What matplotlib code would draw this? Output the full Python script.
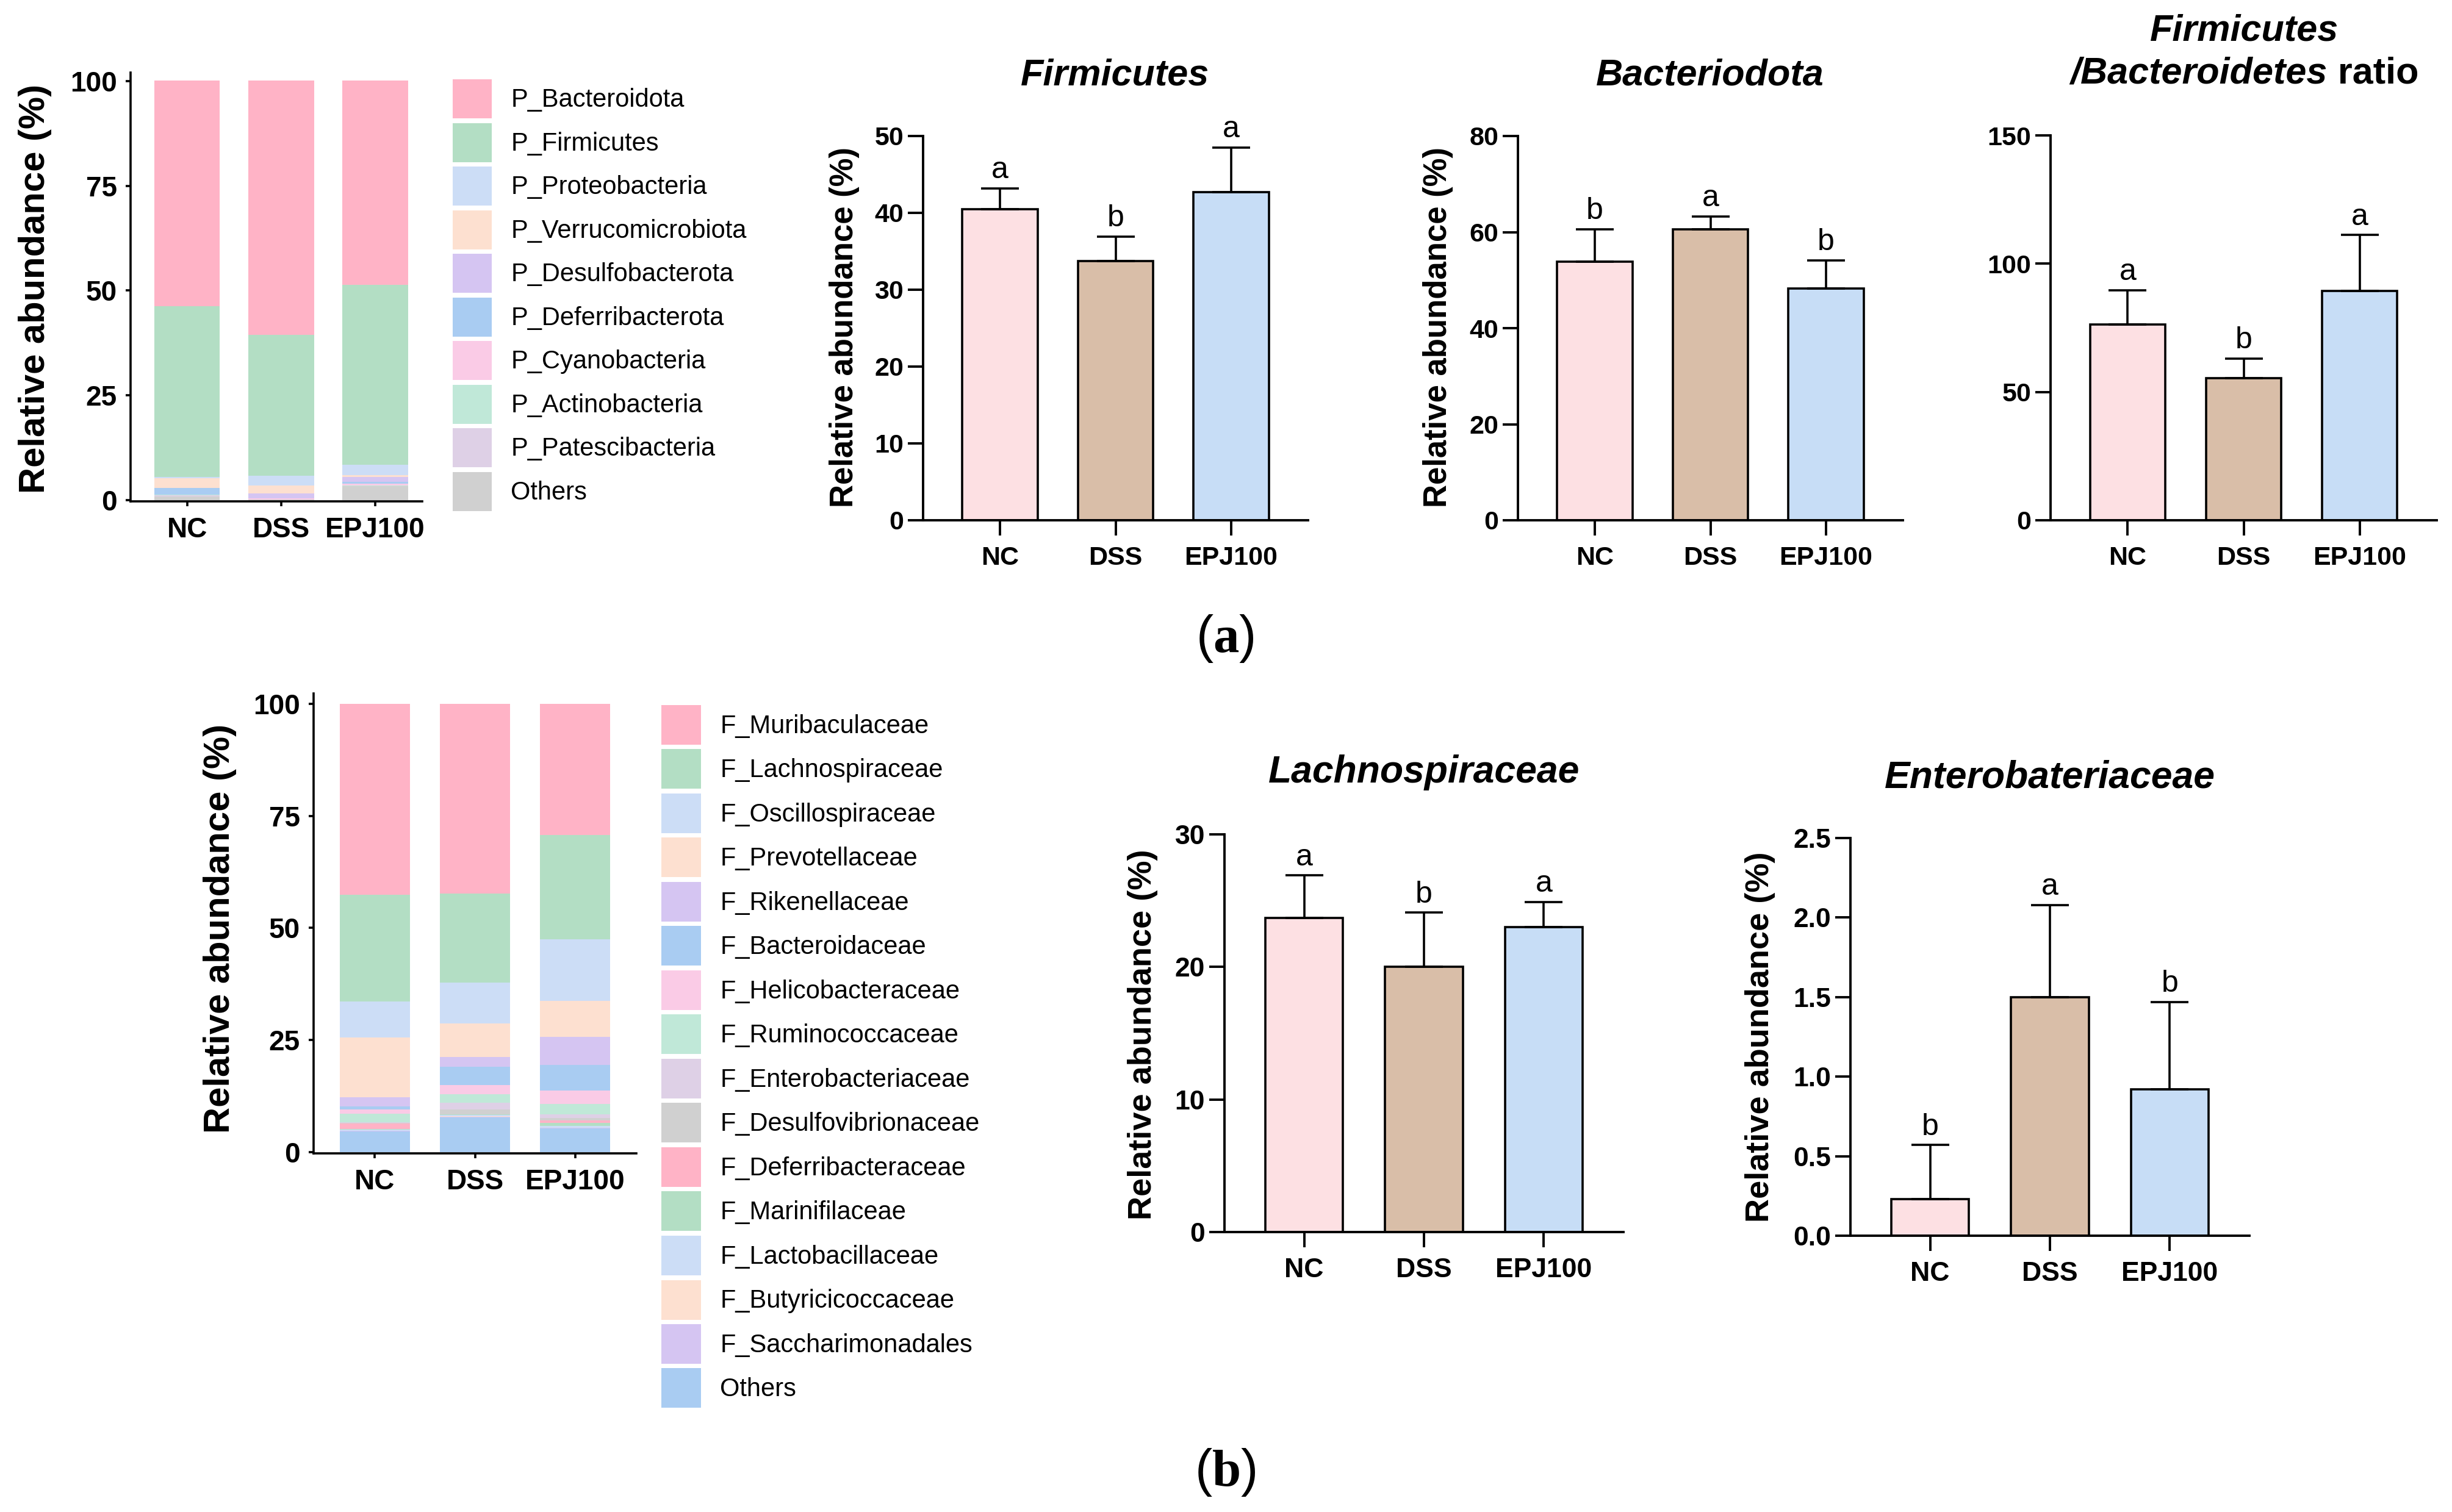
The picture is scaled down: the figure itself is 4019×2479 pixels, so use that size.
"""Gut microbiota composition: stacked phylum/family abundance and selected taxa bar charts."""

import numpy as np
import matplotlib
matplotlib.use("Agg")
import matplotlib.pyplot as plt
from matplotlib.patches import Patch

plt.rcParams['font.family'] = ['Liberation Sans', 'DejaVu Sans']
plt.rcParams['mathtext.fontset'] = 'custom'
plt.rcParams['mathtext.rm'] = 'Liberation Serif'
plt.rcParams['mathtext.bf'] = 'Liberation Serif:bold'

W, H = 4019, 2479
DPI = 200

GROUPS = ["NC", "DSS", "EPJ100"]
GROUP_COLORS = ["#FDE0E3", "#D9BEA8", "#C7DDF6"]

# stacked bar data, listed in legend order (top of stack first)
PHYLA = ["P_Bacteroidota", "P_Firmicutes", "P_Proteobacteria", "P_Verrucomicrobiota",
         "P_Desulfobacterota", "P_Deferribacterota", "P_Cyanobacteria",
         "P_Actinobacteria", "P_Patescibacteria", "Others"]
PHYLUM_NC = [53.8, 40.8, 0.2, 2.3, 0.1, 1.5, 0.05, 0.1, 0.3, 0.9]
PHYLUM_DSS = [60.6, 33.7, 2.2, 1.9, 1.2, 0.05, 0.2, 0.05, 0.05, 0.1]
PHYLUM_EPJ100 = [48.7, 42.9, 2.5, 0.5, 1.1, 0.5, 0.4, 0.05, 0.1, 3.3]

FAMILIES = ["F_Muribaculaceae", "F_Lachnospiraceae", "F_Oscillospiraceae", "F_Prevotellaceae",
            "F_Rikenellaceae", "F_Bacteroidaceae", "F_Helicobacteraceae", "F_Ruminococcaceae",
            "F_Enterobacteriaceae", "F_Desulfovibrionaceae", "F_Deferribacteraceae",
            "F_Marinifilaceae", "F_Lactobacillaceae", "F_Butyricicoccaceae",
            "F_Saccharimonadales", "Others"]
FAMILY_NC = [42.6, 23.8, 8.0, 13.3, 2.1, 0.7, 0.9, 1.9, 0.2, 0.1, 1.2, 0.1, 0.3, 0.1, 0.1, 4.6]
FAMILY_DSS = [42.3, 19.9, 9.1, 7.5, 2.2, 4.0, 2.1, 1.9, 1.5, 1.0, 0.1, 0.1, 0.3, 0.1, 0.1, 7.8]
FAMILY_EPJ100 = [29.3, 23.2, 13.7, 8.1, 6.3, 5.7, 3.0, 2.2, 0.9, 0.5, 0.6, 0.6, 0.4, 0.1, 0.1, 5.3]

PHYLUM_COLORS = ["#FFB3C6", "#B3DEC4", "#CCDDF6", "#FDE0D0", "#D5C5F2",
                 "#A9CCF2", "#FACBE6", "#C0E8D8", "#DED0E6", "#D0D0D0"]
FAMILY_COLORS = PHYLUM_COLORS + ["#FFB3C6", "#B3DEC4", "#CCDDF6", "#FDE0D0", "#D5C5F2", "#A9CCF2"]

# mean, upper SD and significance letters per taxon
FIRMICUTES = [40.5, 33.7, 42.7]
FIRMICUTES_ERR = [2.7, 3.2, 5.8]
FIRMICUTES_SIG = ["a", "b", "a"]
BACTERIODOTA = [53.9, 60.6, 48.3]
BACTERIODOTA_ERR = [6.7, 2.7, 5.8]
BACTERIODOTA_SIG = ["b", "a", "b"]
FB_RATIO = [76.3, 55.4, 89.5]
FB_RATIO_ERR = [13.4, 7.6, 21.7]
FB_RATIO_SIG = ["a", "b", "a"]
LACHNO = [23.7, 20.0, 23.0]
LACHNO_ERR = [3.2, 4.1, 1.9]
LACHNO_SIG = ["a", "b", "a"]
ENTERO = [0.23, 1.50, 0.92]
ENTERO_ERR = [0.34, 0.58, 0.55]
ENTERO_SIG = ["b", "a", "b"]


def add_axes_px(fig, left, top, right, bottom):
    return fig.add_axes([left / W, 1 - bottom / H, (right - left) / W, (bottom - top) / H])


def fig_text(fig, x, y, s, **kw):
    return fig.text(x / W, 1 - y / H, s, **kw)


def stacked(ax, values, colors, xlim, ylim):
    data = np.array(values, dtype=float).T        # taxa x groups
    x = np.arange(len(GROUPS))
    bottom = np.zeros(len(GROUPS))
    for row, color in zip(data[::-1], colors[::-1]):
        ax.bar(x, row, bottom=bottom, width=0.7, color=color, linewidth=0)
        bottom += row
    ax.set_xlim(*xlim)
    ax.set_ylim(*ylim)
    ax.set_yticks([0, 25, 50, 75, 100])
    ax.set_xticks(x, GROUPS)
    for side in ("top", "right"):
        ax.spines[side].set_visible(False)
    for side in ("left", "bottom"):
        ax.spines[side].set_linewidth(1.3)
    ax.tick_params(length=3, width=1.3, labelsize=16.5, pad=5)
    ax.tick_params(axis="x", pad=6)
    for lab in ax.get_xticklabels() + ax.get_yticklabels():
        lab.set_fontweight("bold")


def stacked_legend(fig, names, colors, x, y, patch_pt, pitch_pt, fs=15):
    # legend patch height is fs * (0.65 * handleheight + 0.245)
    hh = (patch_pt / fs - 0.245) / 0.65
    handles = [Patch(facecolor=c, edgecolor="none") for c in colors]
    fig.legend(handles, names, loc="upper left", bbox_to_anchor=(x / W, 1 - y / H),
               bbox_transform=fig.transFigure, frameon=False, fontsize=fs,
               handlelength=patch_pt / fs, handleheight=hh, handletextpad=0.75,
               labelspacing=(pitch_pt - patch_pt) / fs, borderpad=0, borderaxespad=0)


def mean_bars(ax, means, errs, letters, ymax, yticks, fmt=None):
    x = np.arange(len(GROUPS))
    ax.bar(x, means, width=0.65, color=GROUP_COLORS, edgecolor="black", linewidth=1.3,
           yerr=[np.zeros(len(errs)), errs], capsize=11,
           error_kw=dict(elinewidth=1.3, capthick=1.3, ecolor="black"))
    for xi, m, e, s in zip(x, means, errs, letters):
        ax.annotate(s, (xi, m + e), xytext=(0, 6), textcoords="offset points",
                    ha="center", va="baseline", fontsize=18)
    ax.set_xlim(-0.665, 2.665)
    ax.set_ylim(0, ymax)
    ax.set_yticks(yticks)
    if fmt is not None:
        ax.set_yticklabels([fmt.format(t) for t in yticks])
    ax.set_xticks(x, GROUPS)
    for side in ("top", "right"):
        ax.spines[side].set_visible(False)
    for side in ("left", "bottom"):
        ax.spines[side].set_linewidth(1.4)
    ax.tick_params(length=9, width=1.4, labelsize=15.5)
    ax.tick_params(axis="x", pad=6)
    ax.tick_params(axis="y", pad=2.5)
    for lab in ax.get_xticklabels() + ax.get_yticklabels():
        lab.set_fontweight("bold")


def main():
    fig = plt.figure(figsize=(W / DPI, H / DPI), dpi=DPI)
    px = 72 / DPI   # points per output pixel
    ylab = "Relative abundance (%)"

    # (a) phylum level
    ax = add_axes_px(fig, 214, 119, 692, 822)
    stacked(ax, [PHYLUM_NC, PHYLUM_DSS, PHYLUM_EPJ100], PHYLUM_COLORS, (-0.6, 2.5), (-0.3, 102))
    fig_text(fig, 58, 473, ylab, rotation=90, ha="center", va="center",
             fontsize=21.5, fontweight="bold")
    stacked_legend(fig, PHYLA, PHYLUM_COLORS, 742, 130, 64 * px, 71.5 * px)

    ax = add_axes_px(fig, 1513, 223, 2144, 853)
    mean_bars(ax, FIRMICUTES, FIRMICUTES_ERR, FIRMICUTES_SIG, 50, [0, 10, 20, 30, 40, 50])
    fig_text(fig, 1384, 537, ylab, rotation=90, ha="center", va="center",
             fontsize=19, fontweight="bold")
    fig_text(fig, 1828, 124, "Firmicutes", ha="center", va="center",
             fontsize=22, fontweight="bold", fontstyle="italic")

    ax = add_axes_px(fig, 2488, 223, 3119, 853)
    mean_bars(ax, BACTERIODOTA, BACTERIODOTA_ERR, BACTERIODOTA_SIG, 80, [0, 20, 40, 60, 80])
    fig_text(fig, 2357, 537, ylab, rotation=90, ha="center", va="center",
             fontsize=19, fontweight="bold")
    fig_text(fig, 2803, 124, "Bacteriodota", ha="center", va="center",
             fontsize=22, fontweight="bold", fontstyle="italic")

    ax = add_axes_px(fig, 3361, 222, 3994, 853)
    mean_bars(ax, FB_RATIO, FB_RATIO_ERR, FB_RATIO_SIG, 150, [0, 50, 100, 150])
    fig_text(fig, 3679, 51, "Firmicutes", ha="center", va="center",
             fontsize=22, fontweight="bold", fontstyle="italic")
    # second title line: italic taxon, upright "ratio"
    left = fig_text(fig, 0, 121, "/Bacteroidetes", ha="left", va="center",
                    fontsize=22, fontweight="bold", fontstyle="italic")
    right = fig_text(fig, 0, 121, " ratio", ha="left", va="center",
                     fontsize=22, fontweight="bold")
    renderer = fig.canvas.get_renderer()
    w1 = left.get_window_extent(renderer).width
    w2 = right.get_window_extent(renderer).width
    x0 = 3679 - (w1 + w2) / 2
    left.set_x(x0 / W)
    right.set_x((x0 + w1) / W)

    fig_text(fig, 2008, 1047, r"($\mathbf{a}$)", ha="center", va="center", fontsize=30.5)

    # (b) family level
    ax = add_axes_px(fig, 514, 1137, 1043, 1891)
    stacked(ax, [FAMILY_NC, FAMILY_DSS, FAMILY_EPJ100], FAMILY_COLORS, (-0.61, 2.61), (-0.27, 102.3))
    fig_text(fig, 360, 1522, ylab, rotation=90, ha="center", va="center",
             fontsize=21.5, fontweight="bold")
    stacked_legend(fig, FAMILIES, FAMILY_COLORS, 1084, 1156, 65 * px, 72.5 * px)

    ax = add_axes_px(fig, 2007, 1368, 2661, 2020)
    mean_bars(ax, LACHNO, LACHNO_ERR, LACHNO_SIG, 30, [0, 10, 20, 30])
    ax.tick_params(labelsize=16)
    fig_text(fig, 1873, 1696, ylab, rotation=90, ha="center", va="center",
             fontsize=19.5, fontweight="bold")
    fig_text(fig, 2334, 1266, "Lachnospiraceae", ha="center", va="center",
             fontsize=22.5, fontweight="bold", fontstyle="italic")

    ax = add_axes_px(fig, 3033, 1374, 3687, 2026)
    mean_bars(ax, ENTERO, ENTERO_ERR, ENTERO_SIG, 2.5, [0, 0.5, 1.0, 1.5, 2.0, 2.5], fmt="{:.1f}")
    ax.tick_params(labelsize=16)
    fig_text(fig, 2885, 1700, ylab, rotation=90, ha="center", va="center",
             fontsize=19.5, fontweight="bold")
    fig_text(fig, 3360, 1275, "Enterobateriaceae", ha="center", va="center",
             fontsize=22.5, fontweight="bold", fontstyle="italic")

    fig_text(fig, 2008, 2414, r"($\mathbf{b}$)", ha="center", va="center", fontsize=30.5)

    fig.savefig("out.png", dpi=DPI, facecolor="white")


if __name__ == '__main__':
    main()
